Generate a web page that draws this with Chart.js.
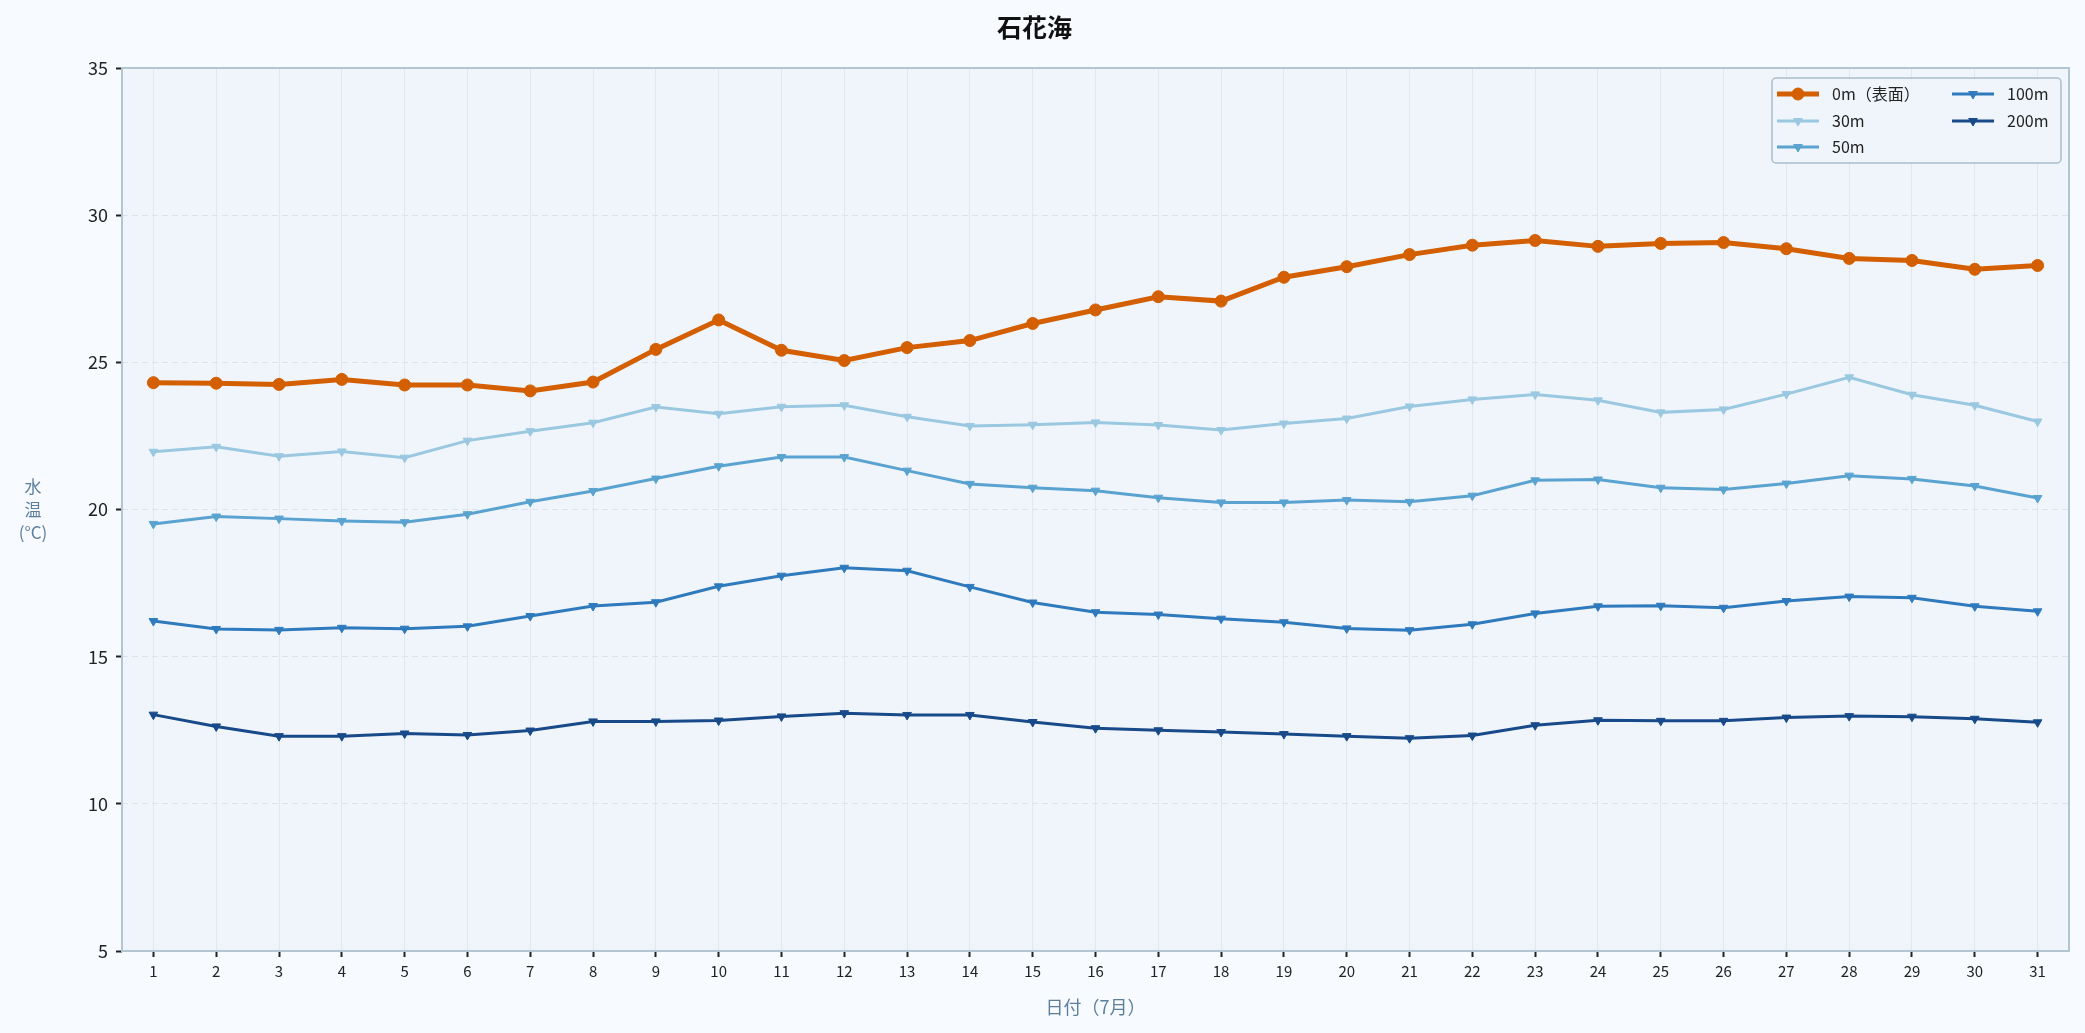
<!DOCTYPE html>
<html>
<head>
<meta charset="utf-8">
<script src="https://cdn.jsdelivr.net/npm/chart.js@4.4.1/dist/chart.umd.min.js"></script>
<style>
  html, body { margin: 0; padding: 0; background: #f7fafe; }
  #wrap { width: 2085px; height: 1033px; }
</style>
</head>
<body>
<div id="wrap"><canvas id="c" width="2085" height="1033"></canvas></div>
<script>
const days = ['1','2','3','4','5','6','7','8','9','10','11','12','13','14','15','16','17','18','19','20','21','22','23','24','25','26','27','28','29','30','31'];
const depthLabels = ['0m（表面）', '30m', '50m', '100m', '200m'];
const t0 = [24.31, 24.29, 24.25, 24.42, 24.23, 24.23, 24.03, 24.33, 25.44, 26.44, 25.41, 25.06, 25.50, 25.74, 26.32, 26.78, 27.23, 27.08, 27.89, 28.25, 28.66, 28.98, 29.14, 28.94, 29.04, 29.07, 28.86, 28.53, 28.46, 28.16, 28.29];
const t30 = [21.96, 22.13, 21.81, 21.97, 21.76, 22.34, 22.66, 22.95, 23.48, 23.25, 23.49, 23.54, 23.15, 22.84, 22.88, 22.96, 22.87, 22.70, 22.92, 23.09, 23.50, 23.74, 23.91, 23.71, 23.30, 23.40, 23.92, 24.49, 23.90, 23.54, 22.99];
const t50 = [19.51, 19.76, 19.69, 19.61, 19.57, 19.84, 20.26, 20.63, 21.05, 21.47, 21.78, 21.78, 21.32, 20.87, 20.74, 20.64, 20.40, 20.24, 20.24, 20.32, 20.26, 20.47, 20.99, 21.02, 20.74, 20.68, 20.88, 21.15, 21.04, 20.80, 20.39];
const t100 = [16.21, 15.94, 15.91, 15.98, 15.95, 16.03, 16.38, 16.72, 16.85, 17.39, 17.75, 18.02, 17.92, 17.37, 16.84, 16.51, 16.43, 16.29, 16.17, 15.96, 15.90, 16.10, 16.47, 16.71, 16.73, 16.66, 16.89, 17.04, 17.00, 16.71, 16.54];
const t200 = [13.03, 12.63, 12.30, 12.30, 12.39, 12.34, 12.49, 12.80, 12.80, 12.83, 12.97, 13.08, 13.02, 13.02, 12.78, 12.57, 12.50, 12.44, 12.37, 12.30, 12.23, 12.32, 12.67, 12.84, 12.82, 12.82, 12.93, 12.98, 12.96, 12.89, 12.77];
const yTicks = [5, 10, 15, 20, 25, 30, 35];
const chartTitle = '石花海';
const xTitle = '日付（7月）';
const yTitleLines = ['水', '温', '(°C)'];

const FONT = "'Noto Sans CJK JP', 'Noto Sans', sans-serif";
const colors = ['#d35f00', '#9ac8e0', '#5aa3d0', '#2e7abd', '#184a8a'];
const series = [t0, t30, t50, t100, t200];

function mkDataset(i) {
  const isTop = i === 0;
  return {
    label: depthLabels[i],
    data: series[i],
    borderColor: colors[i],
    backgroundColor: colors[i],
    pointBackgroundColor: colors[i],
    pointBorderColor: colors[i],
    borderWidth: isTop ? 5 : 3,
    pointRadius: isTop ? 6 : 5,
    pointHoverRadius: isTop ? 6 : 5,
    pointBorderWidth: 1,
    pointStyle: isTop ? 'circle' : 'triangle',
    rotation: isTop ? 0 : 180,
    tension: 0,
    fill: false,
    order: isTop ? 0 : i
  };
}

const framePlugin = {
  id: 'frame',
  beforeDraw(chart) {
    const {ctx, chartArea: a} = chart;
    ctx.save();
    ctx.fillStyle = '#f0f5fc';
    ctx.fillRect(a.left, a.top, a.right - a.left, a.bottom - a.top);
    ctx.restore();
  },
  afterDatasetsDraw(chart) {
    const {ctx, chartArea: a} = chart;
    ctx.save();
    ctx.strokeStyle = '#b3c4d3';
    ctx.lineWidth = 2;
    ctx.strokeRect(a.left, a.top, a.right - a.left, a.bottom - a.top);
    ctx.restore();
  },
  afterDraw(chart) {
    const {ctx, chartArea: a} = chart;
    // y axis title (horizontal, stacked)
    ctx.save();
    ctx.fillStyle = '#5d7f9c';
    ctx.font = '17px ' + FONT;
    ctx.textAlign = 'center';
    ctx.textBaseline = 'middle';
    const cy = (a.top + a.bottom) / 2;
    const lh = 23;
    yTitleLines.forEach((t, k) => {
      ctx.fillText(t, 33, cy + (k - (yTitleLines.length - 1) / 2) * lh);
    });
    ctx.restore();

    // legend (2 columns, column-wise fill)
    const ds = chart.data.datasets;
    const bx = 1772, by = 78, bw = 289, bh = 85;
    ctx.save();
    ctx.fillStyle = 'rgba(240,245,251,0.9)';
    ctx.strokeStyle = '#a9bccc';
    ctx.lineWidth = 1.5;
    ctx.beginPath();
    if (ctx.roundRect) ctx.roundRect(bx, by, bw, bh, 4); else ctx.rect(bx, by, bw, bh);
    ctx.fill();
    ctx.stroke();
    ctx.restore();
    const rowsY = [94, 121, 147];
    const cols = [{lx: 1777, tx: 1832}, {lx: 1952, tx: 2007}];
    ds.forEach((d, i) => {
      const col = i < 3 ? 0 : 1;
      const row = i < 3 ? i : i - 3;
      const y = rowsY[row];
      const lx = cols[col].lx;
      ctx.save();
      ctx.strokeStyle = d.borderColor;
      ctx.lineWidth = d.borderWidth;
      ctx.beginPath();
      ctx.moveTo(lx, y);
      ctx.lineTo(lx + 42, y);
      ctx.stroke();
      ctx.fillStyle = d.pointBackgroundColor;
      ctx.strokeStyle = d.pointBorderColor;
      ctx.lineWidth = 1;
      Chart.helpers.drawPoint(ctx, {
        pointStyle: d.pointStyle,
        rotation: d.rotation,
        radius: d.pointRadius,
        borderWidth: 1
      }, lx + 21, y);
      ctx.fillStyle = '#222';
      ctx.font = '16px ' + FONT;
      ctx.textAlign = 'left';
      ctx.textBaseline = 'middle';
      ctx.fillText(d.label, cols[col].tx, y);
      ctx.restore();
    });
  }
};

new Chart(document.getElementById('c'), {
  type: 'line',
  data: {
    labels: days,
    datasets: depthLabels.map((_, i) => mkDataset(i))
  },
  options: {
    responsive: false,
    animation: false,
    devicePixelRatio: 1,
    layout: { padding: { left: 0, right: 16, top: 0, bottom: 0 } },
    plugins: {
      legend: { display: false },
      tooltip: { enabled: false },
      title: {
        display: true,
        text: chartTitle,
        color: '#111',
        font: { family: FONT, size: 25, weight: 'bold' },
        padding: { top: 12, bottom: 26 }
      }
    },
    scales: {
      x: {
        type: 'category',
        offset: true,
        grid: {
          color: '#dfe7f0',
          lineWidth: 1,
          tickColor: '#222',
          tickLength: 6,
          tickWidth: 2
        },
        border: { display: false },
        ticks: {
          color: '#222',
          font: { family: FONT, size: 15 },
          padding: 5,
          maxRotation: 0,
          autoSkip: false
        },
        title: {
          display: true,
          text: xTitle,
          color: '#5d7f9c',
          font: { family: FONT, size: 18 },
          padding: { top: 4, bottom: 15 }
        },
        afterFit(scale) { scale.height = 82; }
      },
      y: {
        min: 5,
        max: 35,
        afterBuildTicks(scale) { scale.ticks = yTicks.map(v => ({ value: v })); },
        grid: {
          color: '#dbe4ee',
          lineWidth: 1,
          tickColor: '#222',
          tickLength: 6,
          tickWidth: 2,
          tickBorderDash: []
        },
        border: { display: false, dash: [6, 4] },
        ticks: {
          color: '#222',
          font: { family: FONT, size: 18 },
          padding: 8
        },
        afterFit(scale) { scale.width = 122; }
      }
    }
  },
  plugins: [framePlugin]
});
</script>
</body>
</html>
